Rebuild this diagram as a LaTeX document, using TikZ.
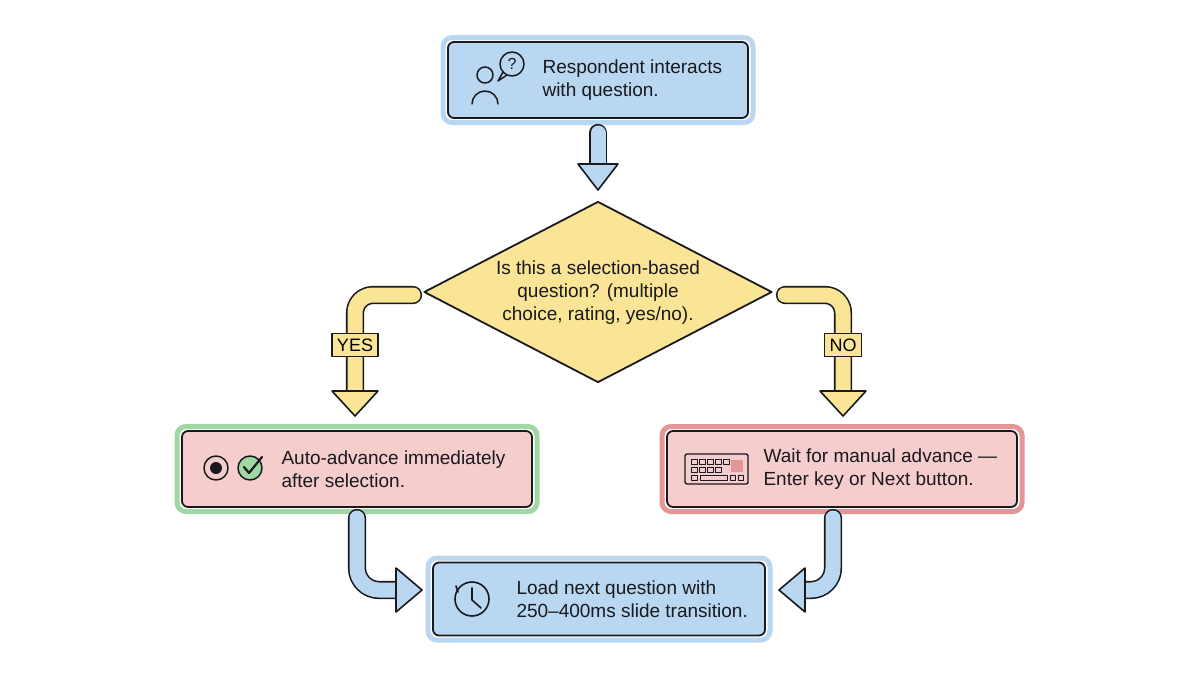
\documentclass[tikz,border=0pt]{standalone}
\usepackage{fontspec}
\setmainfont{Liberation Sans}
\usetikzlibrary{positioning,shapes.geometric}
\definecolor{FlowBlue}{RGB}{185,215,240}
\definecolor{FlowYellow}{RGB}{250,228,150}
\definecolor{FlowPink}{RGB}{245,205,205}
\definecolor{FlowGreen}{RGB}{160,215,165}
\definecolor{FlowRed}{RGB}{228,150,150}
\definecolor{FlowInk}{RGB}{25,25,30}

\begin{document}
\begin{tikzpicture}[x=1pt,y=-1pt,line join=round,line cap=round,
  box/.style n args={3}{draw=FlowInk,line width=1.8pt,fill=#1,rounded corners=6pt,minimum width=#2,minimum height=#3},
  halo/.style n args={3}{draw=#1,line width=5pt,rounded corners=9pt,minimum width=#2,minimum height=#3},
  txt/.style={font=\fontsize{19}{23}\selectfont,text=FlowInk,align=left},
  pipe/.style={draw=FlowInk,line width=1.6pt,double=#1,double distance=15pt},
  tip/.style={draw=FlowInk,line width=1.6pt,fill=#1}]
\useasboundingbox (0,0) rectangle (1200,675);
\fill[white] (0,0) rectangle (1200,675);
% boxes
\node[halo={FlowBlue}{310pt}{85pt}] (startH) at (598,80) {};
\node[box={FlowBlue}{300pt}{76pt}] (start) at (598,80) {};
\node[txt,anchor=west] (startT) at (539,80) {Respondent interacts\\with question.};
\node[diamond,aspect=1.9,draw=FlowInk,line width=1.8pt,fill=FlowYellow,minimum width=348pt,minimum height=181pt,inner sep=0pt] (ask) at (598,292) {};
\node[txt,align=center] (askT) at (598,293) {Is this a selection-based\\question? (multiple\\choice, rating, yes/no).};
\node[halo={FlowGreen}{360pt}{85pt}] (autoH) at (357,469) {};
\node[box={FlowPink}{350pt}{76pt}] (auto) at (357,469) {};
\node[txt,anchor=west] (autoT) at (278,469) {Auto-advance immediately\\after selection.};
\node[halo={FlowRed}{360pt}{85pt}] (waitH) at (842,469) {};
\node[box={FlowPink}{350pt}{76pt}] (wait) at (842,469) {};
\node[txt,anchor=west] (waitT) at (760,469) {Wait for manual advance —\\Enter key or Next button.};
\node[halo={FlowBlue}{342pt}{82pt}] (loadH) at (599,599) {};
\node[box={FlowBlue}{332pt}{73pt}] (load) at (599,599) {};
\node[txt,anchor=west] (loadT) at (513,599) {Load next question with\\250–400ms slide transition.};
% arrows
\coordinate (c1) at (598,133);
\draw[pipe=FlowBlue] (c1) -- (598,165);
\draw[tip=FlowBlue] (578,164) -- (618,164) -- (598,190) -- cycle;
\coordinate (yesA) at (413,295);
\draw[pipe=FlowYellow,rounded corners=18pt] (yesA) -- (355,295) -- (355,392);
\draw[tip=FlowYellow] (332,391) -- (378,391) -- (355,416) -- cycle;
\coordinate (noA) at (785,295);
\draw[pipe=FlowYellow,rounded corners=18pt] (noA) -- (843,295) -- (843,392);
\draw[tip=FlowYellow] (820,391) -- (866,391) -- (843,416) -- cycle;
\node[draw=FlowInk,line width=1.4pt,fill=FlowYellow,font=\fontsize{18}{20}\selectfont,inner sep=5pt] (yes) at (355,345) {YES};
\node[draw=FlowInk,line width=1.4pt,fill=FlowYellow,font=\fontsize{18}{20}\selectfont,inner sep=5pt] (no) at (843,345) {NO};
\coordinate (lA) at (357,518);
\draw[pipe=FlowBlue,rounded corners=22pt] (lA) -- (357,590) -- (398,590);
\draw[tip=FlowBlue] (396,568) -- (396,612) -- (422,590) -- cycle;
\coordinate (rA) at (833,518);
\draw[pipe=FlowBlue,rounded corners=22pt] (rA) -- (833,590) -- (803,590);
\draw[tip=FlowBlue] (805,568) -- (805,612) -- (779,590) -- cycle;
% icons
\draw[FlowInk,line width=1.5pt] (485,75) circle (8) (472,104) arc (180:360:13 and 13);
\draw[FlowInk,line width=1.5pt,fill=FlowBlue] (512,64) circle (12) (503,72) -- (498,81) -- (507,75);
\node[font=\fontsize{16}{16}\selectfont,text=FlowInk] (qm) at (512,64) {?};
\draw[FlowInk,line width=1.5pt] (216,468) circle (12);
\fill[FlowInk] (216,468) circle (6);
\draw[FlowInk,line width=1.5pt,fill=FlowGreen] (250,468) circle (12);
\draw[FlowInk,line width=2.2pt] (244,467) -- (249,473) -- (262,457);
\draw[FlowInk,line width=1.4pt,rounded corners=2pt] (685,454) rectangle (748,484);
\foreach \x in {691,699,707,715,723} {\draw[FlowInk,line width=0.9pt] (\x,459) rectangle +(6,5);}
\foreach \x in {691,699,707,715} {\draw[FlowInk,line width=0.9pt] (\x,467) rectangle +(6,5);}
\fill[FlowRed] (731,460) rectangle (743,472);
\draw[FlowInk,line width=0.9pt] (691,475) rectangle +(6,5) (700,475) rectangle +(27,5) (730,475) rectangle +(5,5) (738,475) rectangle +(5,5);
\draw[FlowInk,line width=1.6pt] (472,599) circle (17) (472,588) -- (472,600) -- (481,608);
\draw[FlowInk,line width=1.6pt] (458,592) -- (456,586);
\end{tikzpicture}
\end{document}
